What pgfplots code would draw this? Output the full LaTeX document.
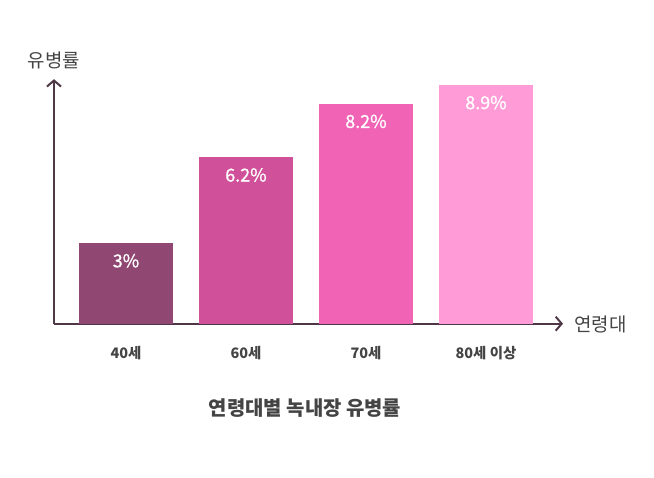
\documentclass[border=0pt]{standalone}
\usepackage{fontspec}
\setmainfont{Noto Sans CJK KR}
\newfontfamily\medfont{Noto Sans CJK KR}[FakeBold=0.9]
\usepackage{pgfplots}
\pgfplotsset{compat=1.18}
\usetikzlibrary{arrows.meta}
\definecolor{c1}{HTML}{904872}
\definecolor{c2}{HTML}{D05099}
\definecolor{c3}{HTML}{F063B5}
\definecolor{c4}{HTML}{FF9CD7}
\definecolor{axc}{HTML}{4E3746}
\definecolor{txt}{HTML}{444444}
\begin{document}
\begin{tikzpicture}[x=1bp,y=1bp]
\path[use as bounding box] (0,0) rectangle (654,478);
\begin{axis}[
  at={(54bp,154.3bp)}, anchor=south west,
  scale only axis, width=509bp, height=244.5bp,
  xmin=-0.6, xmax=3.642, ymin=0, ymax=9.12,
  axis lines=left,
  axis line style={draw=axc, line width=2bp, -{Straight Barb[length=6bp,width=14bp,line width=2bp]}},
  ybar, bar width=94bp, bar shift=0pt,
  xtick={0,1,2,3},
  xticklabels={40세,60세,70세,80세 이상},
  ytick=\empty,
  major tick length=0pt,
  xticklabel style={font=\bfseries\fontsize{14.5}{16}\selectfont, text=txt, anchor=center, yshift=-29.5bp},
  nodes near coords,
  point meta=explicit symbolic,
  every node near coord/.append style={anchor=center, yshift=-17.5bp, text=white, font=\medfont\fontsize{18}{20}\selectfont},
  clip=false,
]
\addplot[fill=c1, draw=none] coordinates {(0,3) [3\%]};
\addplot[fill=c2, draw=none] coordinates {(1,6.2) [6.2\%]};
\addplot[fill=c3, draw=none] coordinates {(2,8.2) [8.2\%]};
\addplot[fill=c4, draw=none] coordinates {(3,8.9) [8.9\%]};
\end{axis}
\node[text=txt, font=\fontsize{19}{21}\selectfont] at (54,418) {유병률};
\node[text=txt, font=\fontsize{19}{21}\selectfont, anchor=west] at (571,154) {연령대};
\node[text=txt, font=\bfseries\fontsize{20}{22}\selectfont] at (305,70) {연령대별 녹내장 유병률};
\end{tikzpicture}
\end{document}
